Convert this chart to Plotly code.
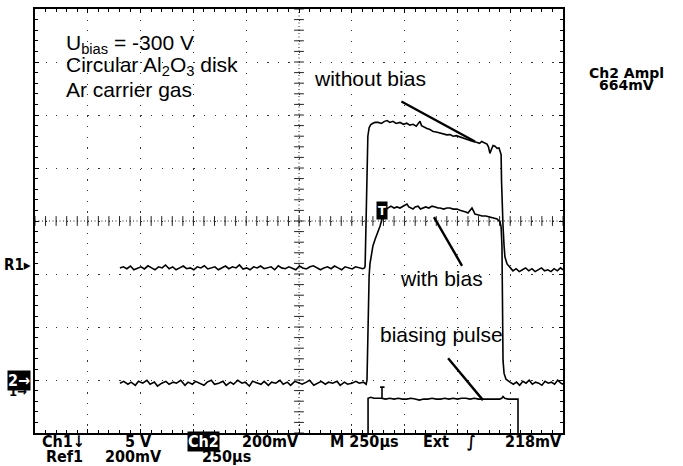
import numpy as np
import plotly.graph_objects as go

# Screen units: time in microseconds (250 us/div, 10 div), vertical in mV (200 mV/div, 8 div)
T_RANGE = [0, 2500]
V_RANGE = [-800, 800]
T_DIV, V_DIV = 250, 200

# Ch2 : with bias  (ground marker "2", baseline about -612 mV on screen)
with_bias = [
    (402, -612), (420, -605), (440, -616), (455, -608), (475, -620), (490, -605), (510, -612), (530, -601),
    (545, -616), (565, -608), (580, -623), (600, -612), (620, -605), (635, -616), (655, -608), (670, -612),
    (690, -601), (710, -620), (725, -608), (745, -616), (760, -605), (780, -612), (800, -620), (815, -608),
    (835, -601), (850, -616), (870, -612), (890, -605), (905, -620), (925, -608), (940, -616), (960, -601),
    (980, -612), (995, -608), (1015, -623), (1030, -605), (1050, -612), (1070, -616), (1085, -605), (1105, -620),
    (1120, -608), (1140, -612), (1160, -601), (1175, -616), (1195, -608), (1210, -620), (1230, -605), (1250, -612),
    (1265, -616), (1285, -608), (1300, -601), (1320, -620), (1340, -612), (1355, -605), (1375, -616), (1390, -608),
    (1410, -612), (1430, -605), (1445, -620), (1465, -608), (1480, -616), (1500, -612), (1520, -605), (1535, -612),
    (1555, -608), (1568, -616),
    (1572, -600), (1575, -450), (1577, -300), (1578, -263), (1582, -207), (1586, -162), (1593, -125), (1600, -94),
    (1610, -70), (1620, -49), (1634, -19), (1643, 8), (1652, 30), (1660, 41), (1671, 49), (1685, 56),
    (1700, 49), (1714, 53), (1728, 49), (1743, 56), (1752, 60), (1761, 64), (1770, 53), (1780, 49),
    (1790, 45), (1800, 53), (1814, 56), (1825, 45), (1837, 49), (1850, 53), (1865, 49), (1880, 56),
    (1895, 53), (1908, 49), (1918, 49), (1935, 45), (1950, 49), (1965, 49), (1980, 45), (1998, 45),
    (2012, 41), (2027, 38), (2040, 34), (2050, 30), (2060, 41), (2069, 49), (2076, 38), (2083, 26),
    (2100, 23), (2117, 19), (2135, 19), (2154, 15), (2170, 11), (2188, 8), (2202, -4),
    (2207, -23), (2211, -94), (2212, -300), (2216, -526), (2221, -575), (2230, -597), (2249, -608),
    (2265, -616), (2280, -608), (2295, -620), (2310, -605), (2325, -612), (2340, -601), (2355, -616), (2370, -608),
    (2385, -612), (2400, -620), (2415, -605), (2430, -612), (2445, -608), (2460, -616), (2475, -601), (2490, -612),
    (2500, -616),
]

# Ref1 : without bias  (ground marker "R1", baseline about -177 mV on screen)
without_bias = [
    (402, -177), (418, -173), (435, -180), (452, -170), (468, -184), (485, -177), (502, -173), (518, -181),
    (535, -169), (552, -177), (568, -184), (585, -173), (602, -177), (618, -166), (635, -180), (652, -173),
    (668, -184), (685, -177), (702, -170), (718, -180), (735, -177), (752, -184), (768, -173), (785, -177),
    (802, -169), (818, -181), (835, -177), (852, -173), (868, -184), (885, -177), (902, -170), (918, -180),
    (935, -173), (952, -177), (968, -166), (985, -181), (1002, -177), (1018, -184), (1035, -173), (1052, -177),
    (1068, -170), (1085, -180), (1102, -177), (1118, -173), (1135, -184), (1152, -169), (1168, -177), (1185, -180),
    (1202, -173), (1218, -177), (1235, -184), (1252, -170), (1268, -177), (1285, -181), (1302, -173), (1318, -169),
    (1335, -177), (1352, -184), (1368, -177), (1385, -173), (1402, -180), (1418, -170), (1435, -177), (1452, -184),
    (1468, -173), (1485, -177), (1502, -181), (1518, -173), (1535, -177), (1552, -180), (1560, -177),
    (1563, -170), (1566, -60), (1569, 100), (1572, 230), (1576, 320), (1582, 352), (1590, 364), (1600, 369),
    (1610, 372), (1625, 372), (1640, 368), (1655, 376), (1667, 379), (1680, 372), (1695, 376), (1710, 368),
    (1728, 372), (1745, 365), (1760, 369), (1775, 362), (1790, 365), (1805, 358), (1815, 368), (1823, 376),
    (1830, 360), (1845, 352), (1856, 349), (1870, 345), (1885, 338), (1900, 336), (1918, 331), (1935, 328),
    (1950, 325), (1965, 326), (1980, 320), (1995, 322), (2012, 317), (2025, 313), (2040, 311), (2055, 305),
    (2074, 300), (2090, 297), (2105, 293), (2115, 300), (2125, 297), (2140, 290), (2147, 280), (2154, 255),
    (2160, 268), (2169, 285), (2178, 282), (2188, 274), (2197, 276), (2203, 262), (2207, 250),
    (2209, 150), (2211, 75), (2216, -19), (2221, -94), (2225, -135), (2235, -162), (2249, -177),
    (2263, -188), (2278, -180), (2293, -191), (2308, -184), (2323, -177), (2338, -188), (2353, -180), (2368, -191),
    (2383, -184), (2398, -177), (2413, -188), (2428, -184), (2443, -191), (2458, -180), (2473, -188), (2488, -177),
    (2500, -184),
]

# Ch1 : biasing pulse (5 V/div, its ground level lies below the screen)
bias_pulse = [
    (1450, -900), (1577, -900), (1577, -669), (1590, -665), (1605, -669), (1620, -669), (1638, -669),
    (1643, -669), (1643, -627), (1634, -627), (1655, -627), (1643, -627), (1643, -669),
    (1660, -672), (1680, -669), (1700, -672), (1720, -669), (1740, -672), (1760, -672), (1780, -669),
    (1800, -672), (1820, -676), (1840, -672), (1860, -672), (1880, -669), (1900, -672), (1920, -672),
    (1940, -669), (1960, -672), (1980, -669), (2000, -672), (2020, -669), (2040, -669), (2060, -672),
    (2080, -669), (2100, -672), (2120, -672), (2140, -672), (2160, -672), (2180, -672), (2200, -672),
    (2210, -669), (2216, -662), (2224, -669), (2240, -672), (2260, -672), (2287, -672), (2287, -900),
    (2400, -900),
]

PL, PR, PT, PB = 35, 563, 7, 433  # plot-area pixel box
W, H = 683, 466


def fx(x):
    return (x - PL) / (PR - PL)


def fy(y):
    return (PB - y) / (PB - PT)


fig = go.Figure()

# crosshair tick marks (every 0.2 division)
sub_t = np.arange(T_RANGE[0], T_RANGE[1] + 1, T_DIV / 5)
sub_v = np.arange(V_RANGE[0], V_RANGE[1] + 1, V_DIV / 5)
fig.add_trace(go.Scatter(x=sub_t, y=np.zeros_like(sub_t), mode="markers", hoverinfo="skip",
                         marker=dict(symbol="line-ns", size=7, line=dict(width=1, color="#222"))))
fig.add_trace(go.Scatter(x=np.full_like(sub_v, sum(T_RANGE) / 2), y=sub_v, mode="markers", hoverinfo="skip",
                         marker=dict(symbol="line-ew", size=7, line=dict(width=1, color="#222"))))

for series in (bias_pulse, without_bias, with_bias):
    t, v = zip(*series)
    fig.add_trace(go.Scatter(x=t, y=v, mode="lines", hoverinfo="skip",
                             line=dict(color="black", width=1.6)))

# centre crosshair
fig.add_shape(type="line", x0=T_RANGE[0], x1=T_RANGE[1], y0=0, y1=0,
              line=dict(color="#222", width=1, dash="1px,2.5px"))
fig.add_shape(type="line", x0=sum(T_RANGE) / 2, x1=sum(T_RANGE) / 2, y0=V_RANGE[0], y1=V_RANGE[1],
              line=dict(color="#222", width=1, dash="1px,2.5px"))

# pointer lines of the labels
pointers = [((1735, 451), (2083, 300)), ((1889, 15), (2022, -169)), ((1956, -518), (2121, -676))]
for (x0, y0), (x1, y1) in pointers:
    fig.add_shape(type="line", x0=x0, y0=y0, x1=x1, y1=y1, line=dict(color="black", width=2.4))

ann = []
MAIN = dict(family="Liberation Sans, Arial, Helvetica, sans-serif", size=21, color="black")
for txt, x, y, anc in [
    ("U<sub>bias</sub> = -300 V", 64, 42, "left"),
    ("Circular Al<sub>2</sub>O<sub>3</sub> disk", 64, 64, "left"),
    ("Ar carrier gas", 64, 88, "left"),
    ("without bias", 370, 77, "center"),
    ("with bias", 441, 278, "center"),
    ("biasing pulse", 441, 334, "center"),
]:
    ann.append(dict(text=txt, x=fx(x), y=fy(y), xref="paper", yref="paper", xanchor=anc,
                    yanchor="middle", showarrow=False, font=MAIN))

NARROW = "Liberation Sans Narrow, DejaVu Sans Condensed, Roboto, sans-serif"
WIDE = "DejaVu Sans, Verdana, sans-serif"
for txt, x, y, anc, fam, size in [
    ("Ch1↓", 40, 442, "left", NARROW, 16), ("5 V", 123, 442, "left", NARROW, 16),
    ("200mV", 240, 442, "left", NARROW, 16), ("M 250µs", 328, 442, "left", NARROW, 16),
    ("Ext", 421, 442, "left", NARROW, 16), ("∫", 471, 442, "center", NARROW, 16),
    ("218mV", 564, 442, "right", NARROW, 16),
    ("Ref1", 44, 457, "left", NARROW, 16), ("200mV", 103, 457, "left", NARROW, 16),
    ("250µs", 200, 457, "left", NARROW, 16),
    ("Ch2 Ampl", 626, 71, "center", WIDE, 14), ("664mV", 626, 83, "center", WIDE, 14),
    ("R1▸", 33, 264, "right", NARROW, 15), ("1→", 29, 391, "right", NARROW, 13),
]:
    ann.append(dict(text=txt, x=fx(x), y=fy(y), xref="paper", yref="paper", xanchor=anc,
                    yanchor="middle", showarrow=False,
                    font=dict(family=fam, size=size, color="black", weight="bold")))

for txt, x, y, size in [("Ch2", 203, 442, 16), ("2→", 19, 380, 16)]:
    ann.append(dict(text=txt, x=fx(x), y=fy(y), xref="paper", yref="paper", xanchor="center",
                    yanchor="middle", showarrow=False, bgcolor="black", borderpad=0,
                    font=dict(family=NARROW, size=size, color="white", weight="bold")))
# trigger marker
ann.append(dict(text="T", x=1643, y=38, xref="x", yref="y", showarrow=False, bgcolor="black",
                borderpad=1, font=dict(family=NARROW, size=13, color="white", weight="bold")))

axis_common = dict(showticklabels=False, zeroline=False, showline=True, linecolor="black", linewidth=2,
                   mirror="ticks", ticks="inside", ticklen=4, tickcolor="black", tickwidth=1,
                   showgrid=True, gridcolor="#333", gridwidth=1)
fig.update_layout(
    width=W, height=H, margin=dict(l=PL, r=W - PR, t=PT, b=H - PB),
    paper_bgcolor="white", plot_bgcolor="white", showlegend=False,
    xaxis=dict(range=T_RANGE, tick0=0, dtick=T_DIV, griddash="1.2px,9.45px",
               minor=dict(dtick=T_DIV / 5, ticks="inside", ticklen=3, tickcolor="black", showgrid=False),
               **axis_common),
    yaxis=dict(range=V_RANGE, tick0=V_RANGE[0], dtick=V_DIV, griddash="1.2px,9.36px",
               minor=dict(dtick=V_DIV / 5, ticks="inside", ticklen=3, tickcolor="black", showgrid=False),
               **axis_common),
    annotations=ann,
)
fig.write_html("out.html", config={"displayModeBar": False},
               post_script="document.body.style.margin='0px';document.body.style.overflow='hidden';")
